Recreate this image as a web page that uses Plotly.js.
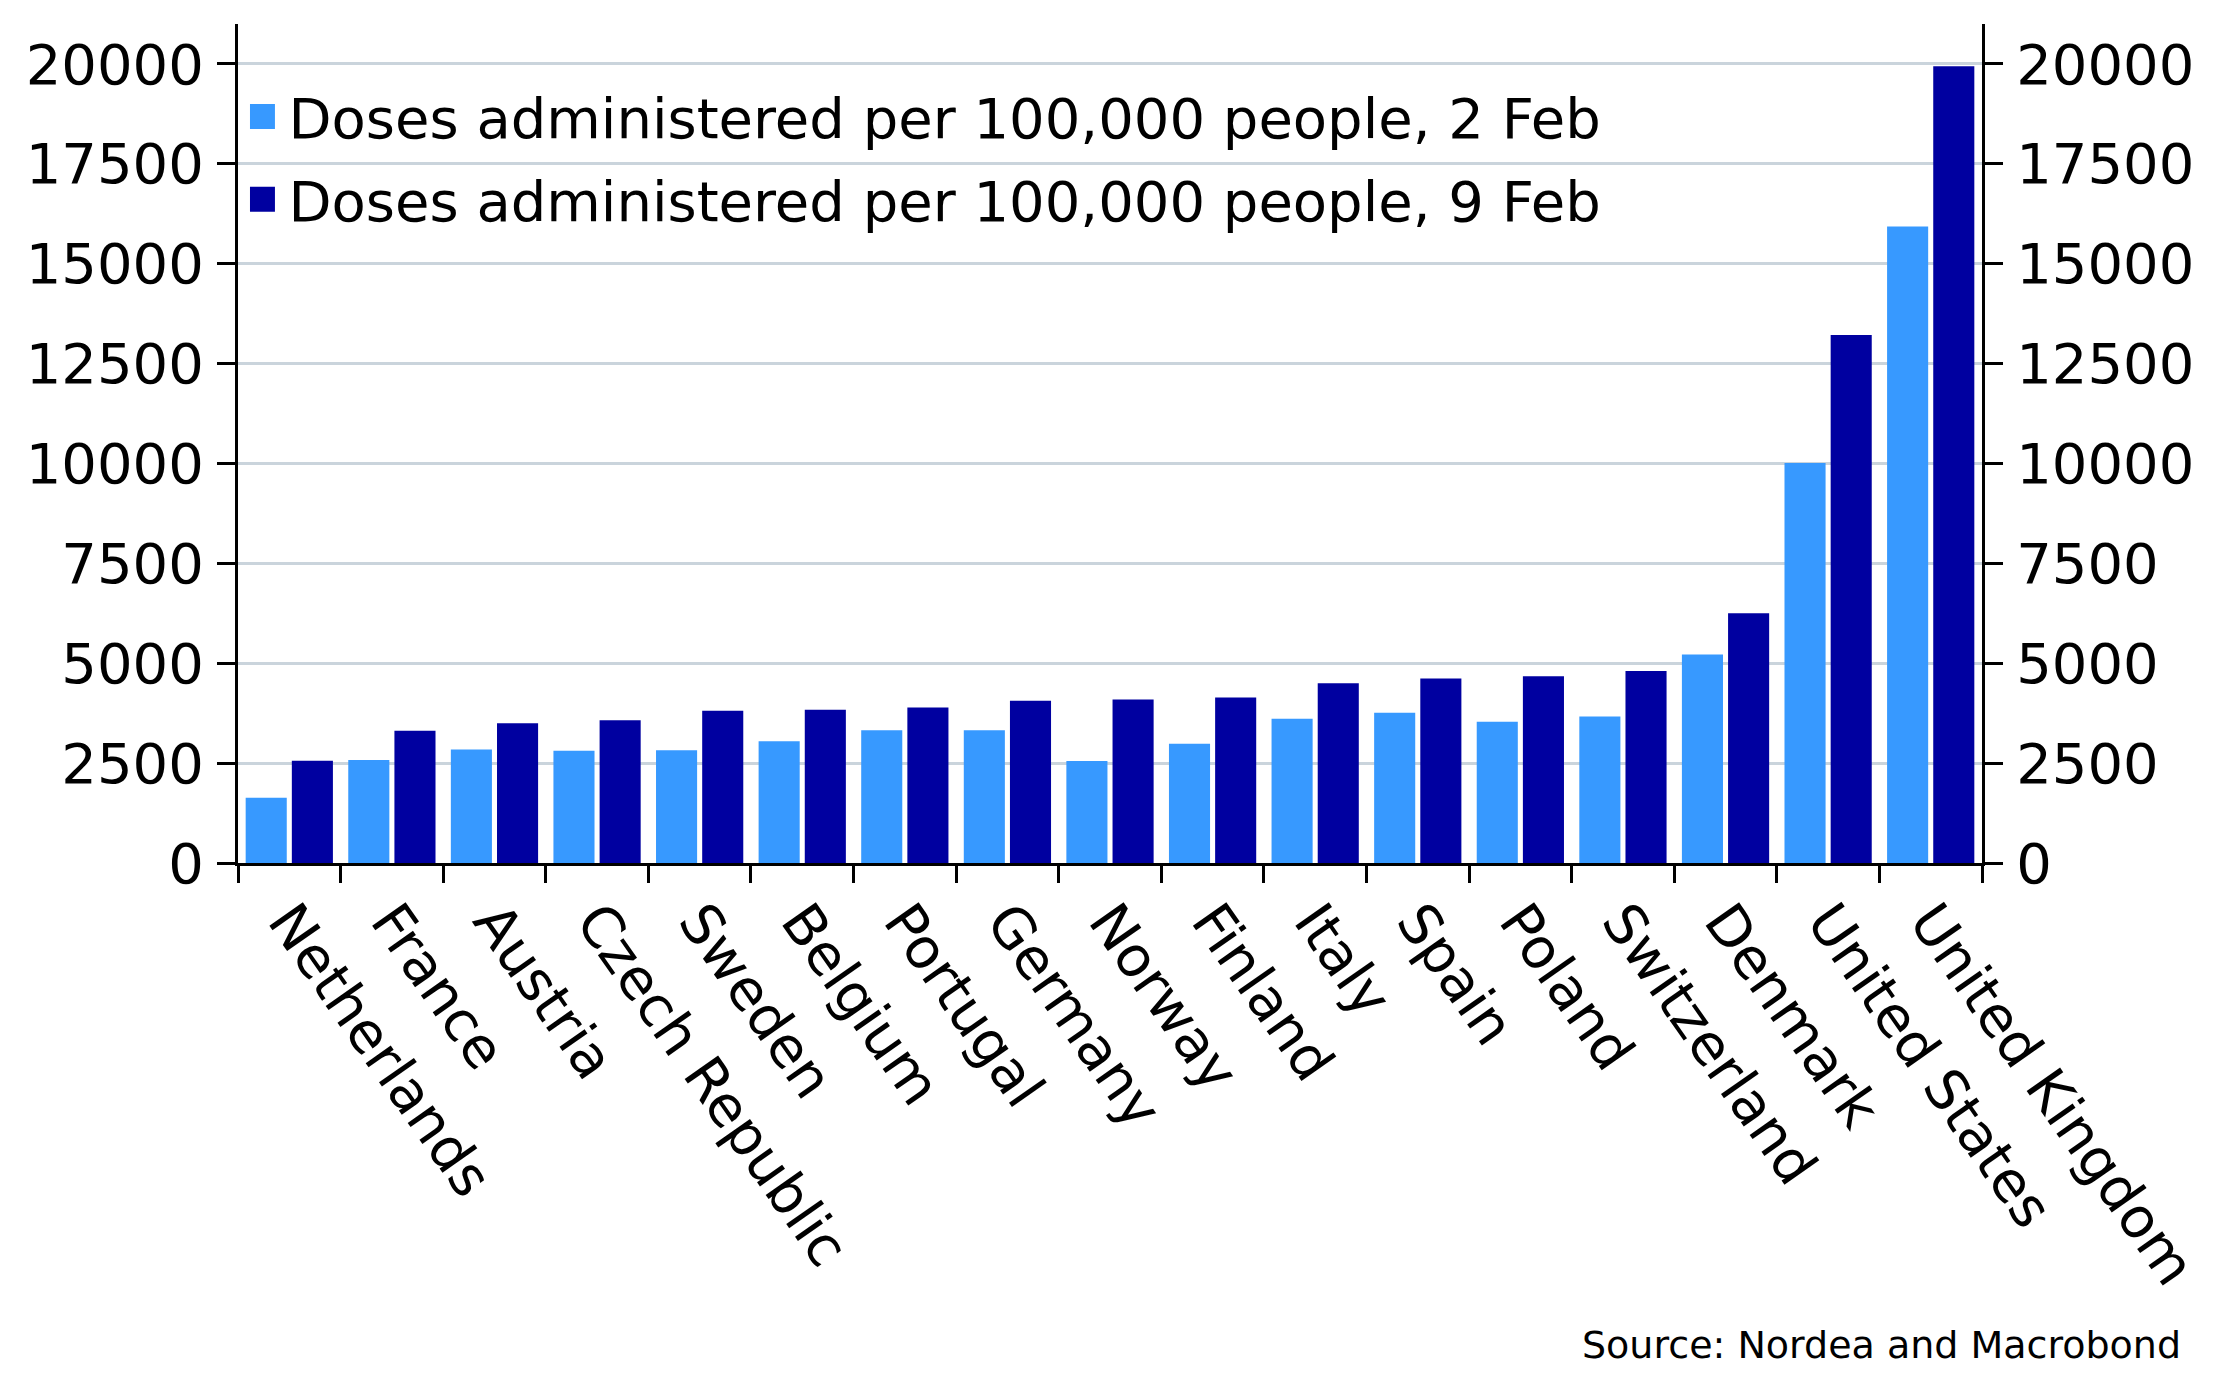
<!DOCTYPE html>
<html>
<head>
<meta charset="utf-8">
<script src="https://cdn.plot.ly/plotly-3.0.1.min.js"></script>
<style>html,body{margin:0;padding:0;background:#fff;}</style>
</head>
<body>
<div id="chart" style="width:2218px;height:1400px;"></div>
<script>
const categories = ["Netherlands","France","Austria","Czech Republic","Sweden","Belgium","Portugal","Germany","Norway","Finland","Italy","Spain","Poland","Switzerland","Denmark","United States","United Kingdom"];
const dosesFeb2 = [1633, 2575, 2842, 2808, 2825, 3050, 3325, 3325, 2550, 2983, 3608, 3758, 3533, 3667, 5217, 10010, 15933];
const dosesFeb9 = [2558, 3308, 3500, 3575, 3808, 3833, 3892, 4058, 4092, 4142, 4500, 4617, 4675, 4808, 6250, 13217, 19942];
const seriesNames = ["Doses administered per 100,000 people, 2 Feb", "Doses administered per 100,000 people, 9 Feb"];
const yTicks = [0, 2500, 5000, 7500, 10000, 12500, 15000, 17500, 20000];
const sourceText = "Source: Nordea and Macrobond";

const FONT = "DejaVu Sans, Verdana, sans-serif";

const traces = [
  {type: "bar", x: categories, y: dosesFeb2, name: seriesNames[0], legendgroup: "a",
   marker: {color: "#3799ff", line: {width: 0}}, hoverinfo: "skip"},
  {type: "bar", x: categories, y: dosesFeb9, name: seriesNames[1], legendgroup: "b",
   marker: {color: "#0000a0", line: {width: 0}}, hoverinfo: "skip"},
  // empty helper trace so the mirrored right-hand axis is drawn
  {type: "bar", x: [], y: [], yaxis: "y2", showlegend: false, hoverinfo: "skip"}
];

const yCommon = {
  range: [0, 21000], tickvals: yTicks, tickformat: "d",
  showline: true, linecolor: "#000", linewidth: 3,
  ticks: "outside", ticklen: 18, tickwidth: 3, tickcolor: "#000",
  ticklabelstandoff: 2,
  tickfont: {family: FONT, size: 56, color: "#000"},
  zeroline: false, fixedrange: true
};

const layout = {
  width: 2218, height: 1400,
  margin: {l: 238, r: 236, t: 24, b: 537},
  paper_bgcolor: "#fff", plot_bgcolor: "#fff",
  font: {family: FONT, color: "#000"},
  barmode: "group", bargap: 0.1, bargroupgap: 0.11,
  showlegend: true,
  legend: {x: 0.006, y: 0.941, xanchor: "left", yanchor: "top",
           bgcolor: "rgba(0,0,0,0)", font: {family: FONT, size: 56, color: "#000"},
           traceorder: "grouped", tracegroupgap: 7},
  xaxis: {type: "category", showline: true, linecolor: "#000", linewidth: 3,
          ticks: "outside", tickson: "boundaries", ticklen: 17, tickwidth: 3, tickcolor: "#000",
          tickangle: 55, tickfont: {family: FONT, size: 56, color: "#000"},
          showgrid: false, fixedrange: true},
  yaxis: Object.assign({}, yCommon, {showgrid: true, gridcolor: "#cad4dc", gridwidth: 3}),
  yaxis2: Object.assign({}, yCommon, {overlaying: "y", side: "right", anchor: "x", showgrid: false}),
  annotations: [{
    text: sourceText, xref: "paper", yref: "paper", x: 1.1152, y: -0.574,
    xanchor: "right", yanchor: "middle", showarrow: false,
    font: {family: FONT, size: 38, color: "#000"}
  }]
};

Plotly.newPlot("chart", traces, layout, {staticPlot: true, displayModeBar: false}).then(function(gd){
  document.querySelectorAll(".legendpoints path").forEach(function(p){
    const t = p.getAttribute("transform") || "";
    p.setAttribute("transform", t + " translate(-6,0) scale(2.08)");
  });
});
</script>
</body>
</html>
